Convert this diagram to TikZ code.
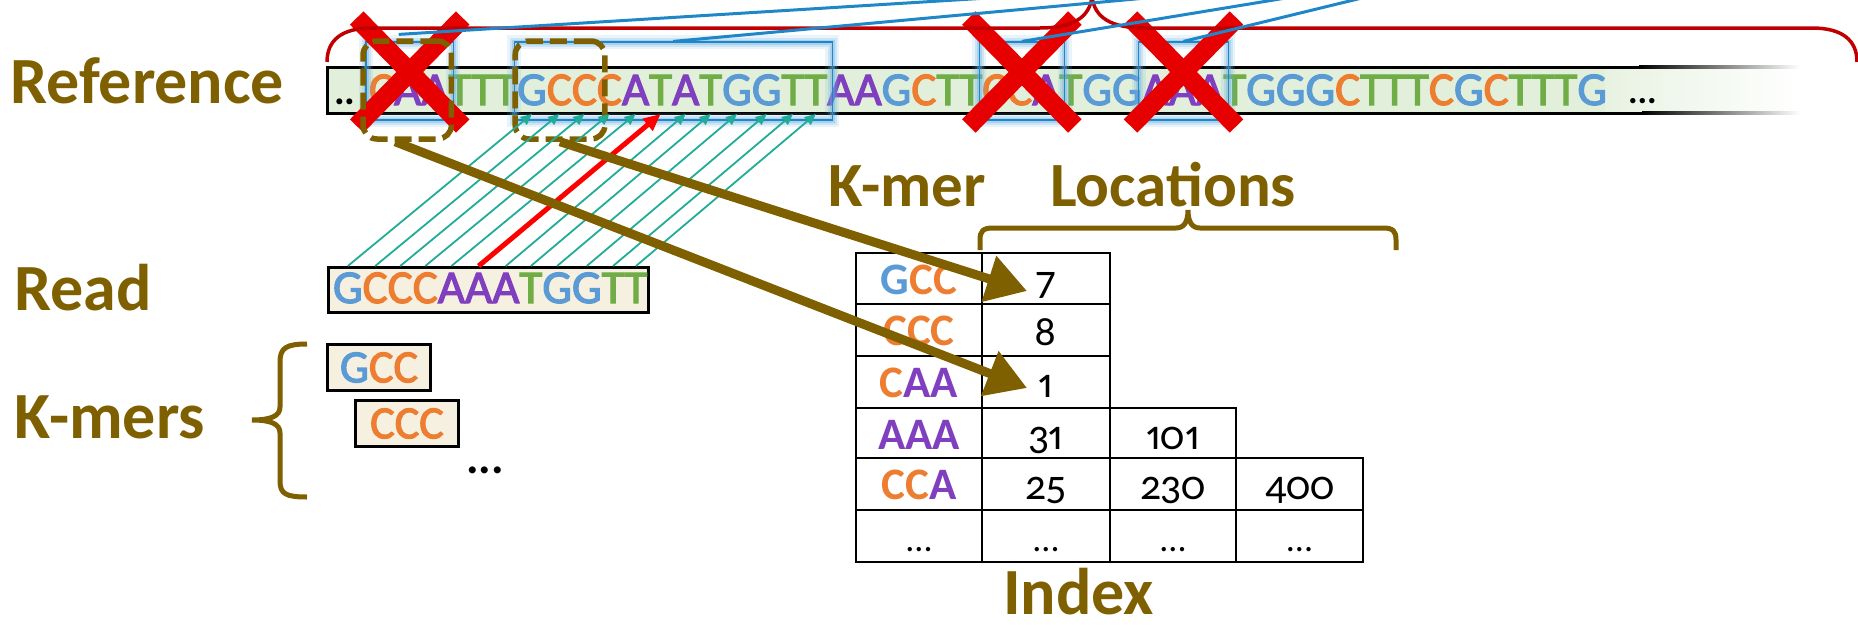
\documentclass[tikz,border=0pt]{standalone}
\usepackage{fontspec}
\setmainfont{Carlito}
\newfontfamily\oldnums{Carlito}[Numbers={OldStyle,Proportional}]
\newfontfamily\seqfont{Carlito}[FakeBold=2.5]
\usetikzlibrary{arrows.meta,calc,fit}

\definecolor{colA}{HTML}{7F3FBF}
\definecolor{colC}{HTML}{ED7D31}
\definecolor{colG}{HTML}{5B9BD5}
\definecolor{colT}{HTML}{70AD47}
\definecolor{kbrown}{HTML}{7F6000}
\definecolor{barfill}{HTML}{E2EFDA}
\definecolor{readfill}{HTML}{F6F0E0}
\definecolor{seedteal}{HTML}{20AC96}
\definecolor{xred}{HTML}{E60000}
\definecolor{bracered}{HTML}{C00000}
\definecolor{linkblue}{HTML}{1F86C8}
\definecolor{glowblue}{HTML}{6AAEE0}

% one coloured nucleotide
\newcommand\nt[1]{\textcolor{col#1}{#1}}

\tikzset{
  x=1pt, y=-1pt,
  lbl/.style={text=kbrown, font=\fontsize{66}{72}\selectfont\bfseries, inner sep=0pt, anchor=base west},
  hdr/.style={lbl, font=\fontsize{63}{68}\selectfont\bfseries},
  letter/.style={font=\seqfont\fontsize{47}{52}\selectfont, inner sep=0pt, outer sep=0pt, anchor=base west},
  kbox/.style={draw=black, line width=3pt, fill=readfill, minimum width=103pt, minimum height=46pt, inner sep=0pt, font=\seqfont\fontsize{46}{50}\selectfont},
  hit/.style={draw=linkblue, line width=1.2pt, inner sep=0pt,
    preaction={draw=glowblue, line width=14pt, draw opacity=0.15},
    preaction={draw=glowblue, line width=9pt, draw opacity=0.22},
    preaction={draw=glowblue, line width=5pt, draw opacity=0.35}},
  redx/.style={draw=xred, line width=19pt},
  kmerbox/.style={draw=kbrown, line width=5.5pt, dash pattern=on 17pt off 7pt, rounded corners=14pt, inner sep=0pt},
  seedarrow/.style={draw=seedteal, line width=1.8pt, -{Triangle[length=11pt,width=10pt]}},
  missarrow/.style={draw=red, line width=5pt, -{Triangle[length=17pt,width=15pt]}},
  lookup/.style={draw=kbrown, line width=9pt, -{Triangle[length=40pt,width=46pt]}},
  curly/.style={draw=kbrown, line width=5pt},
  link/.style={draw=linkblue, line width=3pt},
  gridline/.style={draw=black, line width=2.5pt, line cap=rect},
  kcell/.style={inner sep=0pt, anchor=base, font=\fontsize{45}{50}\selectfont\bfseries},
  ncell/.style={inner sep=0pt, anchor=base, font=\oldnums\fontsize{42}{48}\selectfont},
  dotcell/.style={inner sep=0pt, anchor=base, font=\fontsize{36}{40}\selectfont},
}

% highlighted k-mer hit over reference letters #2..#3
\newcommand\hitbox[3]{%
  \coordinate (#1a) at ($(r#2.west |- hitTop)+(-3,0)$);
  \coordinate (#1b) at ($(r#3.east |- hitBot)+(5,0)$);
  \node[hit, fit=(#1a)(#1b)] (#1) {};}

% red cross over a hit
\newcommand\strikehit[1]{%
  \draw[redx] ($(#1.center |- crossY)+(-53,-54)$) -- ($(#1.center |- crossY)+(53,54)$);
  \draw[redx] ($(#1.center |- crossY)+(53,-54)$) -- ($(#1.center |- crossY)+(-53,54)$);}

\begin{document}
\begin{tikzpicture}
\useasboundingbox (0,0) rectangle (1858,624);

\coordinate (hitTop) at (0,42);
\coordinate (hitBot) at (0,120);
\coordinate (dkTop) at (0,41);
\coordinate (dkBot) at (0,139);
\coordinate (crossY) at (0,72);
\coordinate (refBot) at (0,114);

% reference strip, fading out to the right
\fill[barfill] (327,67) rectangle (1606,113);
\shade[left color=barfill!80!white, right color=white] (1605,67) rectangle (1800,113);
\draw[line width=3pt] (1640,67) -- (327,67) -- (327,113) -- (1643,113);
\shade[left color=black, right color=white] (1639,65.5) rectangle (1800,68.5);
\shade[left color=black, right color=white] (1642,111.5) rectangle (1800,114.5);

\node[letter, font=\fontsize{40}{44}\selectfont\bfseries] (refdots) at (334,104) {..};
\node[letter] (r0) at (368,105) {};
\foreach \b [count=\i] in {C,A,A,T,T,T,G,C,C,C,A,T,A,T,G,G,T,T,A,A,G,C,T,T,C,C,A,T,G,G,A,A,A,T,G,G,G,C,T,T,T,C,G,C,T,T,T,G}{
  \pgfmathtruncatemacro{\j}{\i-1}
  \node[letter, text=col\b] (r\i) at (r\j.base east) {\b};
}
\node[letter, font=\fontsize{36}{40}\selectfont\bfseries] (refend) at (1628,103) {...};

% k-mer hits in the reference
\hitbox{h1}{1}{3}
\hitbox{h2}{7}{18}
\hitbox{h3}{25}{27}
\hitbox{h4}{31}{33}

\strikehit{h1}
\strikehit{h3}
\strikehit{h4}

% dashed k-mer windows
\coordinate (dk1a) at ($(r1.west |- dkTop)+(-6,0)$);
\coordinate (dk1b) at ($(r3.east |- dkBot)+(3,0)$);
\node[kmerbox, fit=(dk1a)(dk1b)] (dk1) {};
\coordinate (dk2a) at ($(r7.west |- dkTop)+(-2,0)$);
\coordinate (dk2b) at ($(r9.east |- dkBot)+(8,0)$);
\node[kmerbox, fit=(dk2a)(dk2b)] (dk2) {};

% red brace over the whole reference
\draw[draw=bracered, line width=3.5pt] (327,62) .. controls (327,40) and (342,28) .. (372,28) -- (1040,28)
  .. controls (1072,28) and (1090,18) .. (1092,-4) .. controls (1094,18) and (1112,28) .. (1144,28)
  -- (1812,28) .. controls (1842,28) and (1857,40) .. (1857,62);

% links from the hits upwards
\coordinate (far1) at (1004,-3);
\coordinate (far2) at (1157,-3);
\coordinate (far3) at (1292,-3);
\coordinate (far4) at (1366,-3);
\draw[link] ($(h1.north)+(-11,-7)$) -- (far1);
\draw[link] (h2.north) -- (far2);
\draw[link] (h3.north) -- (far3);
\draw[link] (h4.north) -- (far4);

% the read
\node[draw=black, line width=3pt, fill=readfill, anchor=north west, minimum width=320pt, minimum height=45pt, inner sep=0pt] (readbox) at (327,266) {};
\node[letter] (q0) at (332,303) {};
\foreach \b [count=\i] in {G,C,C,C,A,A,A,T,G,G,T,T}{
  \pgfmathtruncatemacro{\j}{\i-1}
  \node[letter, text=col\b] (q\i) at (q\j.base east) {\b};
}

% alignment of the read to the reference
\foreach \i in {1,...,12}{
  \pgfmathtruncatemacro{\k}{\i+6}
  \ifnum\i=6 \else
    \draw[seedarrow] (q\i.center |- readbox.north) -- (r\k.center |- refBot);
  \fi
}
\draw[missarrow] (q6.center |- readbox.north) -- (r12.center |- refBot);

% k-mers of the read
\node[kbox, anchor=north west] (km1) at (326,343) {\nt{G}\nt{C}\nt{C}};
\node[kbox, anchor=north west] (km2) at (354,399) {\nt{C}\nt{C}\nt{C}};
\node[letter, font=\fontsize{47}{52}\selectfont\bfseries] (kmdots) at (466,473) {...};

% labels
\node[lbl] (labref) at (10,103) {Reference};
\node[lbl] (labread) at (14,310) {Read};
\node[lbl] (labkmers) at (14,438) {K-mers};
\node[hdr] (labkmer) at (828,206) {K-mer};
\node[hdr] (labloc) at (1050,206) {Locations};
\node[lbl] (labindex) at (1003,614) {Index};

% braces
\draw[curly] (307,344) .. controls (286,344) and (280,348) .. (280,362) -- (280,407)
  .. controls (280,416) and (271,420) .. (252,420) .. controls (271,420) and (280,424) .. (280,433)
  -- (280,481) .. controls (280,494) and (286,497) .. (307,497);
\draw[curly] (980,250) -- (980,240) .. controls (980,231) and (983,228) .. (993,228) -- (1176,228)
  .. controls (1184,228) and (1188,222) .. (1188,210) .. controls (1188,222) and (1192,228) .. (1200,228)
  -- (1383,228) .. controls (1393,228) and (1396,231) .. (1396,240) -- (1396,250);

% index table
\draw[gridline] (856,253) -- (1110,253) (856,304) -- (1110,304) (856,356) -- (1110,356)
  (856,408) -- (1236,408) (856,458) -- (1363,458) (856,510) -- (1363,510) (856,562) -- (1363,562);
\draw[gridline] (856,253) -- (856,562) (982,253) -- (982,562) (1110,253) -- (1110,562)
  (1236,408) -- (1236,562) (1363,458) -- (1363,562);

\node[kcell] (kGCC) at (919,294) {\nt{G}\nt{C}\nt{C}};
\node[ncell] (loc7) at (1046,294) {7};
\node[kcell] (kCCC) at (919,345) {\nt{C}\nt{C}\nt{C}};
\node[ncell] (loc8) at (1046,345) {8};
\node[kcell] (kCAA) at (919,397) {\nt{C}\nt{A}\nt{A}};
\node[ncell] (loc1) at (1046,397) {1};
\node[kcell] (kAAA) at (919,449) {\nt{A}\nt{A}\nt{A}};
\node[ncell] (loc31) at (1046,449) {31};
\node[ncell] (loc101) at (1173,449) {101};
\node[kcell] (kCCA) at (919,499) {\nt{C}\nt{C}\nt{A}};
\node[ncell] (loc25) at (1046,499) {25};
\node[ncell] (loc230) at (1173,499) {230};
\node[ncell] (loc400) at (1299.5,499) {400};
\node[dotcell] (more1) at (919,551) {...};
\node[dotcell] (more2) at (1046,551) {...};
\node[dotcell] (more3) at (1173,551) {...};
\node[dotcell] (more4) at (1299.5,551) {...};

% lookups of the k-mers in the index
\coordinate (tipGCC) at (1027,291);
\coordinate (tipCAA) at (1027,388);
\draw[lookup] (dk2.south) -- (tipGCC);
\draw[lookup] ($(dk1.south)+(-12,0)$) -- (tipCAA);
\end{tikzpicture}
\end{document}
